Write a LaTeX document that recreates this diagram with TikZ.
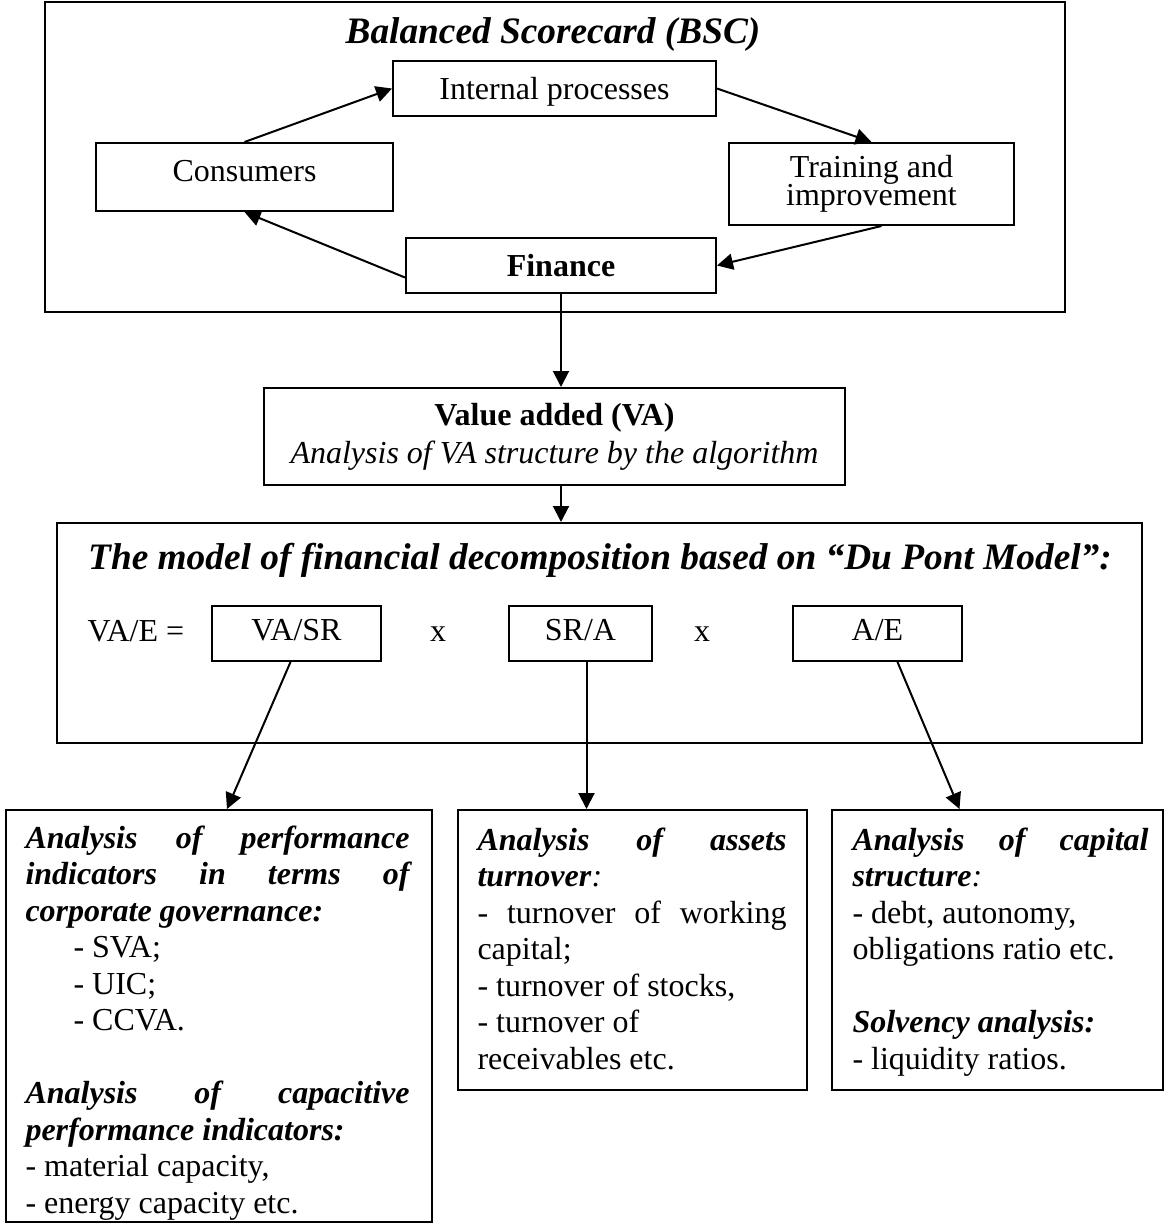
\documentclass[tikz,border=0pt]{standalone}
\usepackage{fontspec}
\setmainfont{Liberation Serif}
\usetikzlibrary{arrows.meta,calc}
\newcommand{\unitpx}{0.375pt}

\begin{document}
\begin{tikzpicture}[x=0.375pt,y=-0.375pt,
    font=\fontsize{12}{13.7}\selectfont,
    box/.style={draw,line width=0.75pt,inner sep=0pt},
    onebox/.style={box,text height=9.5pt,text depth=1.5pt},
    factor/.style={box,text height=8.5pt,text depth=3pt,minimum height=55*\unitpx},
    head/.style={font=\fontsize{14}{16}\selectfont\bfseries\itshape,anchor=base,inner sep=0pt},
    txt/.style={anchor=base west,inner sep=0pt,align=justify},
    arr/.style={line width=0.75pt,-{Triangle[length=6pt,width=6pt]}}]
  \useasboundingbox (0,0) rectangle (1168,1225);
  % balanced scorecard frame
  \node[box,minimum width=1020*\unitpx,minimum height=310*\unitpx] (bsc) at (555,157) {};
  \node[head] (bsctitle) at (553,43) {Balanced Scorecard (BSC)};
  \node[onebox,minimum width=323*\unitpx,minimum height=55*\unitpx] (int) at (554.5,88.5) {Internal processes};
  \node[onebox,text height=8.5pt,text depth=5pt,minimum width=297*\unitpx,minimum height=68*\unitpx] (cons) at (244.5,177) {Consumers};
  \node[box,align=center,minimum width=285*\unitpx,minimum height=82*\unitpx] (train) at (871.5,184) {Training and\\[-3.2pt]improvement};
  \node[onebox,minimum width=310*\unitpx,minimum height=55*\unitpx] (fin) at (561,265.5) {\textbf{Finance}};
  % value added
  \node[box,align=center,minimum width=581*\unitpx,minimum height=97*\unitpx] (va) at (554.5,436.5) {\textbf{Value added (VA)}\\[0.55pt]\textit{Analysis of VA structure by the algorithm}};
  % du pont frame
  \node[box,minimum width=1085*\unitpx,minimum height=220*\unitpx] (dp) at (599.5,633) {};
  \node[head] (dptitle) at (600,569) {The model of financial decomposition based on “Du Pont Model”:};
  \node[anchor=base west,inner sep=0pt] (vae) at (87,641) {VA/E =};
  \node[factor,minimum width=169*\unitpx] (vasr) at (296.5,633.5) {VA/SR};
  \node[anchor=base,inner sep=0pt] (times1) at (438,641) {x};
  \node[factor,minimum width=143*\unitpx] (sra) at (580.5,633.5) {SR/A};
  \node[anchor=base,inner sep=0pt] (times2) at (702,641) {x};
  \node[factor,minimum width=169*\unitpx] (ae) at (877.5,633.5) {A/E};
  % analysis boxes
  \node[box,minimum width=426*\unitpx,minimum height=412*\unitpx] (lbox) at (219,1016) {};
  \node[box,minimum width=349*\unitpx,minimum height=280*\unitpx] (mbox) at (632.5,950) {};
  \node[box,minimum width=331*\unitpx,minimum height=280*\unitpx] (rbox) at (997.5,950) {};
  \node[txt,text width=144pt] (ltxt) at (25,848) {%
    \makebox[\linewidth][s]{\bfseries\itshape Analysis of performance}\\
    \makebox[\linewidth][s]{\bfseries\itshape indicators in terms of}\\
    \textbf{\textit{corporate governance:}}\\
    \hspace*{18pt}- SVA;\\
    \hspace*{18pt}- UIC;\\
    \hspace*{18pt}- CCVA.\\[\baselineskip]
    \makebox[\linewidth][s]{\bfseries\itshape Analysis of capacitive}\\
    \textbf{\textit{performance indicators:}}\\
    - material capacity,\\
    - energy capacity etc.};
  \node[txt,text width=115.875pt] (mtxt) at (477,850) {%
    \makebox[\linewidth][s]{\bfseries\itshape Analysis of assets}\\
    \textbf{\textit{turnover}}\textit{:}\\
    \makebox[\linewidth][s]{- turnover of working}\\
    capital;\\
    - turnover of stocks,\\
    - turnover of\\
    receivables etc.};
  \node[txt,text width=111pt] (rtxt) at (852,850) {%
    \makebox[\linewidth][s]{\bfseries\itshape Analysis of capital}\\
    \textbf{\textit{structure}}\textit{:}\\
    - debt, autonomy,\\
    obligations ratio etc.\\[\baselineskip]
    \textbf{\textit{Solvency analysis:}}\\
    - liquidity ratios.};
  % arrows
  \draw[arr] (cons.north) -- (int.west);
  \draw[arr] (int.east) -- (train.north);
  \draw[arr] ($(train.south)+(10,0)$) -- (fin.east);
  \draw[arr] ($(fin.west)+(0,12)$) -- (cons.south);
  \draw[arr] (fin.south) -- (fin.south |- va.north);
  \draw[arr] (fin.south |- va.south) -- (fin.south |- dp.north);
  \draw[arr] ($(vasr.south)+(-6,0)$) -- ($(lbox.north)+(8,0)$);
  \coordinate (srdown) at ($(sra.south)+(6,0)$);
  \draw[arr] (srdown) -- (srdown |- mbox.north);
  \draw[arr] ($(ae.south)+(20,0)$) -- ($(rbox.north)+(-38,0)$);
\end{tikzpicture}
\end{document}
